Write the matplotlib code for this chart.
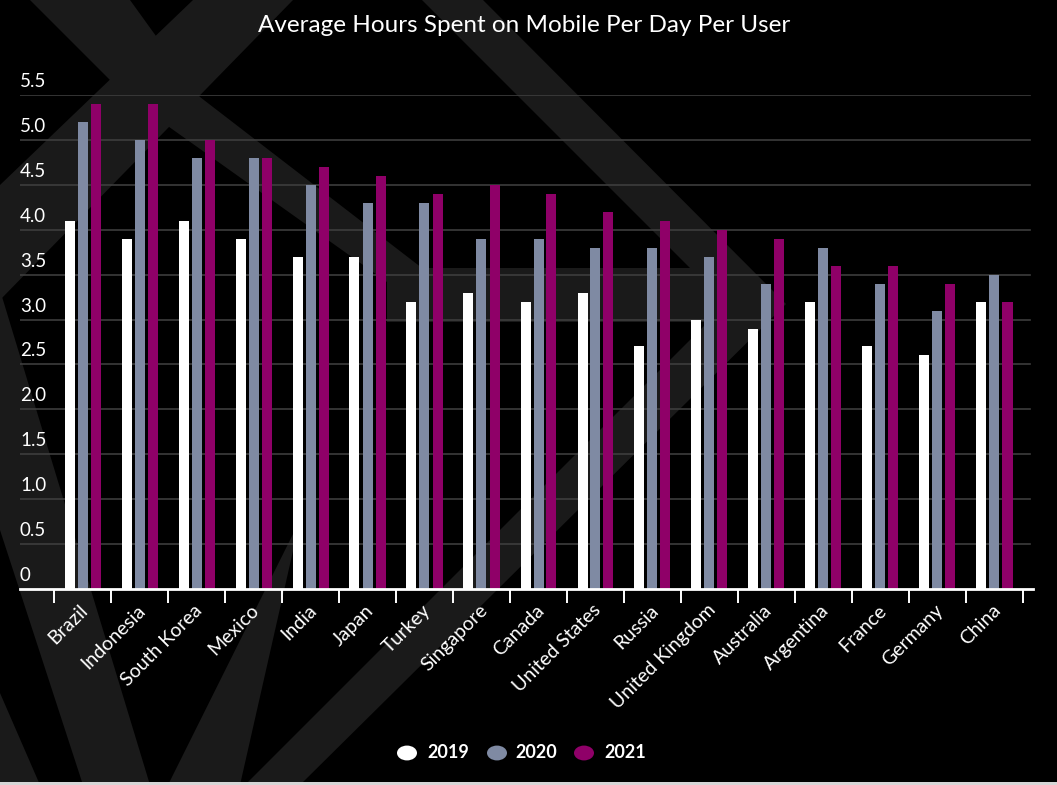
import matplotlib
matplotlib.use("Agg")
import matplotlib.pyplot as plt
from matplotlib.patches import Polygon, Rectangle, Circle
import matplotlib.transforms as mtransforms

countries = ["Brazil", "Indonesia", "South Korea", "Mexico", "India", "Japan", "Turkey",
             "Singapore", "Canada", "United States", "Russia", "United Kingdom", "Australia",
             "Argentina", "France", "Germany", "China"]
y2019 = [4.1, 3.9, 4.1, 3.9, 3.7, 3.7, 3.2, 3.3, 3.2, 3.3, 2.7, 3.0, 2.9, 3.2, 2.7, 2.6, 3.2]
y2020 = [5.2, 5.0, 4.8, 4.8, 4.5, 4.3, 4.3, 3.9, 3.9, 3.8, 3.8, 3.7, 3.4, 3.8, 3.4, 3.1, 3.5]
y2021 = [5.4, 5.4, 5.0, 4.8, 4.7, 4.6, 4.4, 4.5, 4.4, 4.2, 4.1, 4.0, 3.9, 3.6, 3.6, 3.4, 3.2]
years = ["2019", "2020", "2021"]
yticks = [0, 0.5, 1.0, 1.5, 2.0, 2.5, 3.0, 3.5, 4.0, 4.5, 5.0, 5.5]
ytick_labels = ["0", "0.5", "1.0", "1.5", "2.0", "2.5", "3.0", "3.5", "4.0", "4.5", "5.0", "5.5"]

colors = ["#ffffff", "#7f8aa3", "#8f0068"]
W, H = 1057, 785
FONT = ["Lato", "DejaVu Sans"]

fig = plt.figure(figsize=(W / 100, H / 100), dpi=100, facecolor="black")

# decorative background shapes (pixel coords, y from top)
def px(pts):
    return [(x / W, 1 - y / H) for x, y in pts]

shade = "#1a1a1a"
shapes = [
    # band from top-left going down-right, merging into a horizontal bar
    [(30, 0), (130, 0), (200, 97), (422, 268), (740, 268), (740, 322), (387, 322), (387, 282), (127, 97)],
    # chevron pointing right
    [(422, 0), (483, 0), (786, 304), (300, 785), (245, 785), (726, 304)],
    # band from top going down-left
    [(193, 0), (293, 0), (0, 300), (0, 185)],
    # left ray
    [(0, 290), (150, 785), (83, 785), (0, 530)],
    # lower ray
    [(300, 520), (240, 785), (168, 785)],
    # bottom-left corner
    [(0, 693), (40, 785), (0, 785)],
]
for s in shapes:
    fig.add_artist(Polygon(px(s), closed=True, facecolor=shade, edgecolor="none",
                           transform=fig.transFigure, zorder=0))
fig.add_artist(Rectangle((0, 0), 1, 3 / H, transform=fig.transFigure,
                         facecolor="#d6d6d6", edgecolor="none", zorder=0))

left_px, right_px = 20, 1033
y0_px, ytop_px = 589, 95
ax = fig.add_axes([left_px / W, 1 - y0_px / H, (right_px - left_px) / W, (y0_px - ytop_px) / H])
ax.set_facecolor("none")

n = len(countries)
band_l, band_r = 54, 1023
pxu = (band_r - band_l) / n
xmin = -0.5 - (band_l - left_px) / pxu
xmax = n - 0.5 + (right_px - band_r) / pxu
ax.set_xlim(xmin, xmax)
ax.set_ylim(0, 5.5)

bw = 10 / pxu
off = 13 / pxu
xs = list(range(n))
for k, (vals, c) in enumerate(zip([y2019, y2020, y2021], colors)):
    ax.bar([x + (k - 1) * off for x in xs], vals, width=bw, color=c, zorder=3, linewidth=0)

for v in yticks[1:]:
    ax.axhline(v, xmin=0, xmax=(1030 - left_px) / (right_px - left_px), color="#3d3d3d", lw=1.2, zorder=1)

for sp in ["top", "right", "left"]:
    ax.spines[sp].set_visible(False)
ax.spines["bottom"].set_color("white")
ax.spines["bottom"].set_linewidth(2)
ax.spines["bottom"].set_zorder(4)

ax.set_yticks([])
trans = mtransforms.blended_transform_factory(ax.transAxes, ax.transData)
offset = mtransforms.offset_copy(trans, fig=fig, x=0, y=5, units="dots")
for v, lab in zip(yticks, ytick_labels):
    ax.text(0, v, lab, transform=offset, ha="left", va="bottom", color="white",
            fontsize=13.5, family=FONT)

edges = [i - 0.5 for i in range(n + 1)]
ax.set_xticks(edges)
ax.set_xticklabels([])
ax.tick_params(axis="x", colors="white", length=10, width=1.4, direction="out")
ax.set_xticks(xs, minor=True)
ax.set_xticklabels(countries, minor=True, rotation=45, ha="right", rotation_mode="anchor",
                   color="white", fontsize=14, family=FONT)
ax.tick_params(axis="x", which="minor", length=0, pad=9)
for lab in ax.get_xticklabels(minor=True):
    lab.set_transform(lab.get_transform() + mtransforms.ScaledTranslation(-3 / 100, 0, fig.dpi_scale_trans))

fig.text(524 / W, 1 - 26 / H, "Average Hours Spent on Mobile Per Day Per User", ha="center",
         va="center", color="white", fontsize=17.5, family=FONT)

# legend
leg_y = 1 - 753 / H
items = [(407, 427, "2019"), (497, 515, "2020"), (584, 604, "2021")]
for (cx, tx, lab), c in zip(items, colors):
    fig.add_artist(Circle((cx / W, leg_y), 10 / W, transform=fig.transFigure,
                          facecolor=c, edgecolor="none"))
    fig.text(tx / W, leg_y, lab, ha="left", va="center", color="white", fontsize=13,
             fontweight="bold", family=FONT)

fig.savefig("out.png", dpi=100, facecolor="black")
